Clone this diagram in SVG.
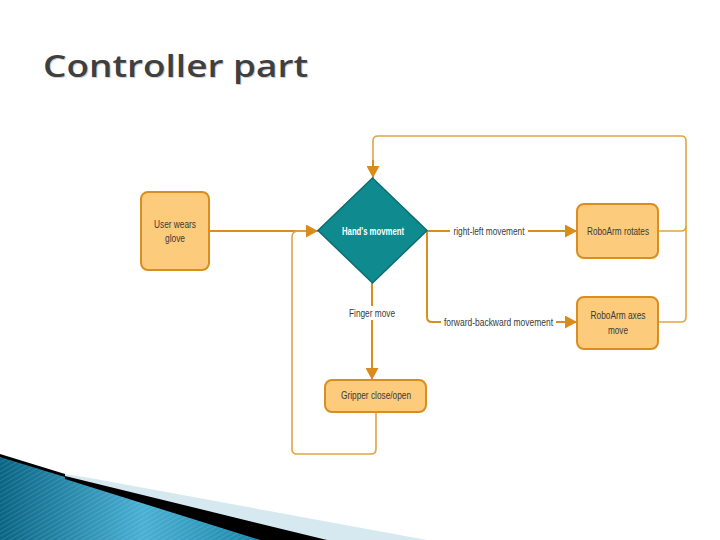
<svg xmlns="http://www.w3.org/2000/svg" width="720" height="540" viewBox="0 0 720 540">
<defs>
<marker id="arr" markerUnits="userSpaceOnUse" markerWidth="13" markerHeight="13" refX="12" refY="6.5" orient="auto">
<path d="M0,0 L12,6.5 L0,13 z" fill="#D98C1C"/>
</marker>
<linearGradient id="blue" x1="0" y1="0" x2="1" y2="0">
<stop offset="0" stop-color="#0A6584"/>
<stop offset="0.55" stop-color="#4AB0D4"/>
<stop offset="1" stop-color="#1B86A8"/>
</linearGradient>
<pattern id="stripes" width="4" height="4" patternUnits="userSpaceOnUse" patternTransform="rotate(60)">
<rect width="1" height="4" fill="#ffffff" opacity="0.12"/>
</pattern>
</defs>
<style>
.box{fill:#FCCB7C;stroke:#D98E1F;stroke-width:2}
.dia{fill:#0F8A8E;stroke:#0C6E72;stroke-width:1.5}
.ln{fill:none;stroke:#D98E1F;stroke-width:2}
.lp{fill:none;stroke:#E0A445;stroke-width:1.6}
.t{font-family:"Liberation Sans",Arial,sans-serif;font-size:11px;fill:#3a3a3a;text-anchor:middle}
.tw{font-family:"Liberation Sans",Arial,sans-serif;font-size:11px;fill:#ffffff;text-anchor:middle;font-weight:bold}
.bg{fill:#ffffff}
</style>
<rect width="720" height="540" fill="#ffffff"/>
<text x="44" y="78" font-family="'Open Sans','DejaVu Sans',sans-serif" font-size="31" font-weight="600" fill="#d0d0d0" textLength="265" lengthAdjust="spacingAndGlyphs">Controller part</text>
<text x="43" y="77" font-family="'Open Sans','DejaVu Sans',sans-serif" font-size="31" font-weight="600" fill="#3f3f3f" textLength="265" lengthAdjust="spacingAndGlyphs">Controller part</text>

<g id="decoration">
<polygon points="65,474 90,478 427,540 65,540" fill="#D6E9F0"/>
<polygon points="0,454 65,474 65,476 327,540 0,540" fill="#000000"/>
<polygon points="0,457 65,477 65,479 260,540 0,540" fill="url(#blue)"/>
<polygon points="0,457 65,477 65,479 260,540 0,540" fill="url(#stripes)"/>
</g>

<g id="connectors">
<path class="ln" d="M209,231 H318" marker-end="url(#arr)"/>
<path class="lp" d="M376,412 V449 Q376,454 371,454 H297 Q292,454 292,449 V237 Q292,232 297,231 H306"/>
<path class="lp" d="M658,231 H681 Q686,231 686,226 V141 Q686,136 681,136 H378 Q373,136 373,141 V166"/>
<path class="ln" d="M373,160 V178" marker-end="url(#arr)"/>
<path class="lp" d="M658,322 H681 Q686,322 686,317 V226"/>
<path class="ln" d="M427,231 H577" marker-end="url(#arr)"/>
<path class="ln" d="M427,231 V317 Q427,322 432,322 H577" marker-end="url(#arr)"/>
<path class="ln" d="M372,283 V380" marker-end="url(#arr)"/>
<rect class="bg" x="450" y="225" width="78" height="12"/>
<text class="t" x="489" y="235" textLength="71" lengthAdjust="spacingAndGlyphs">right-left movement</text>
<rect class="bg" x="441" y="316" width="115" height="12"/>
<text class="t" x="498.5" y="326" textLength="109" lengthAdjust="spacingAndGlyphs">forward-backward movement</text>
<rect class="bg" x="346" y="306" width="52" height="14"/>
<text class="t" x="372" y="317" textLength="46" lengthAdjust="spacingAndGlyphs">Finger move</text>
</g>

<g id="user">
<rect class="box" x="141" y="192" width="68" height="78" rx="7"/>
<text class="t" x="175" y="228" textLength="42" lengthAdjust="spacingAndGlyphs">User wears</text>
<text class="t" x="175" y="242" textLength="20" lengthAdjust="spacingAndGlyphs">glove</text>
</g>

<g id="hands">
<polygon class="dia" points="372.5,178 427,230.5 372.5,283 318,230.5"/>
<text class="tw" x="373" y="235" textLength="62" lengthAdjust="spacingAndGlyphs">Hand's movment</text>
</g>

<g id="rotates">
<rect class="box" x="577" y="204" width="81" height="54" rx="7"/>
<text class="t" x="618" y="235" textLength="62" lengthAdjust="spacingAndGlyphs">RoboArm rotates</text>
</g>

<g id="axes">
<rect class="box" x="577" y="297" width="81" height="52" rx="7"/>
<text class="t" x="618" y="319" textLength="55" lengthAdjust="spacingAndGlyphs">RoboArm axes</text>
<text class="t" x="618" y="334" textLength="20" lengthAdjust="spacingAndGlyphs">move</text>
</g>

<g id="gripper">
<rect class="box" x="325" y="380" width="101" height="32" rx="7"/>
<text class="t" x="376" y="399" textLength="70" lengthAdjust="spacingAndGlyphs">Gripper close/open</text>
</g>
</svg>
